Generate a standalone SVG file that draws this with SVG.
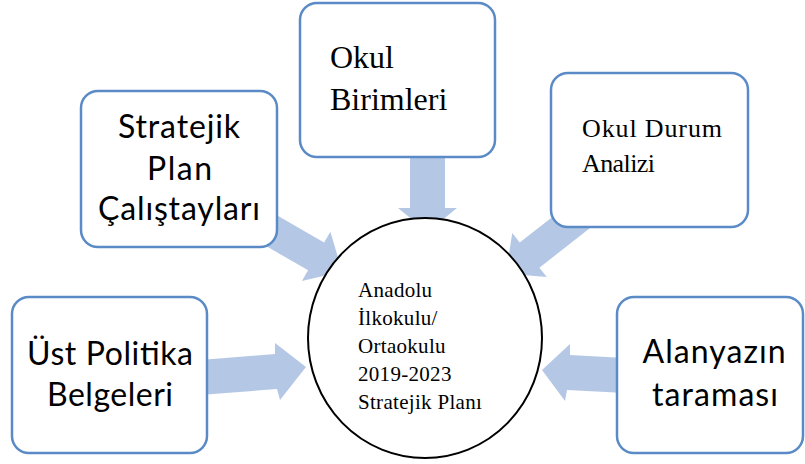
<svg xmlns="http://www.w3.org/2000/svg" width="805" height="464" viewBox="0 0 805 464">
<style>
.box{fill:#fff;stroke:#5B8BC6;stroke-width:2.5}
.arr{fill:#B4C8E6;stroke:none}
.serif{font-family:"Liberation Serif","Times New Roman",serif;fill:#000}
.sans{font-family:Lato,"Liberation Sans",sans-serif;fill:#000;text-anchor:middle}
</style>
<rect width="805" height="464" fill="#fff"/>
<g id="connectors">
<polygon class="arr" points="410,150 445,150 445,208 457,208 427.5,232 398,208 410,208"/>
<polygon class="arr" points="270.4,211.6 324.1,242.6 330.4,231.7 342.1,271.4 301.9,281.1 308.1,270.3 254.4,239.3"/>
<polygon class="arr" points="574.8,199.4 519.7,242.5 512.3,233 505.8,273.6 546.8,277.1 539.4,267.7 594.5,224.6"/>
<polygon class="arr" points="200,360 275,354 275,343 306,367 280,400 277,389 200,395"/>
<polygon class="arr" points="625,358 570,355 570,344 542,370 565,401 567,390 625,393"/>
</g>
<g id="okul-birimleri">
<rect class="box" x="300" y="3" width="195" height="154" rx="17"/>
<text class="serif" font-size="32"><tspan x="330" y="68">Okul</tspan><tspan x="330" y="110">Birimleri</tspan></text>
</g>
<g id="okul-durum-analizi">
<rect class="box" x="551" y="73" width="197" height="154" rx="17"/>
<text class="serif" font-size="26"><tspan x="582" y="137" textLength="140" lengthAdjust="spacing">Okul Durum</tspan><tspan x="582" y="172" textLength="73" lengthAdjust="spacing">Analizi</tspan></text>
</g>
<g id="stratejik-plan">
<rect class="box" x="81" y="91" width="196" height="156" rx="17"/>
<text class="sans" font-size="32"><tspan x="179" y="138" textLength="122" lengthAdjust="spacing">Stratejik</tspan><tspan x="179.5" y="180" textLength="65" lengthAdjust="spacing">Plan</tspan><tspan x="179" y="220" textLength="162" lengthAdjust="spacing">Çalıştayları</tspan></text>
</g>
<g id="ust-politika">
<rect class="box" x="12" y="297" width="195" height="156" rx="17"/>
<text class="sans" font-size="32"><tspan x="110" y="365" textLength="166" lengthAdjust="spacing">Üst Politika</tspan><tspan x="110" y="406" textLength="126" lengthAdjust="spacing">Belgeleri</tspan></text>
</g>
<g id="alanyazin">
<rect class="box" x="617" y="297" width="186" height="156" rx="17"/>
<text class="sans" font-size="32"><tspan x="714" y="363" textLength="143" lengthAdjust="spacing">Alanyazın</tspan><tspan x="715" y="406" textLength="126" lengthAdjust="spacing">taraması</tspan></text>
</g>
<g id="stratejik-plani">
<ellipse cx="425" cy="338" rx="117" ry="120" fill="#fff" stroke="#000" stroke-width="2"/>
<text class="serif" font-size="21" letter-spacing="0.3"><tspan x="358" y="297">Anadolu</tspan><tspan x="358" y="325">İlkokulu/</tspan><tspan x="358" y="353">Ortaokulu</tspan><tspan x="358" y="381">2019-2023</tspan><tspan x="358" y="409">Stratejik Planı</tspan></text>
</g>
</svg>
